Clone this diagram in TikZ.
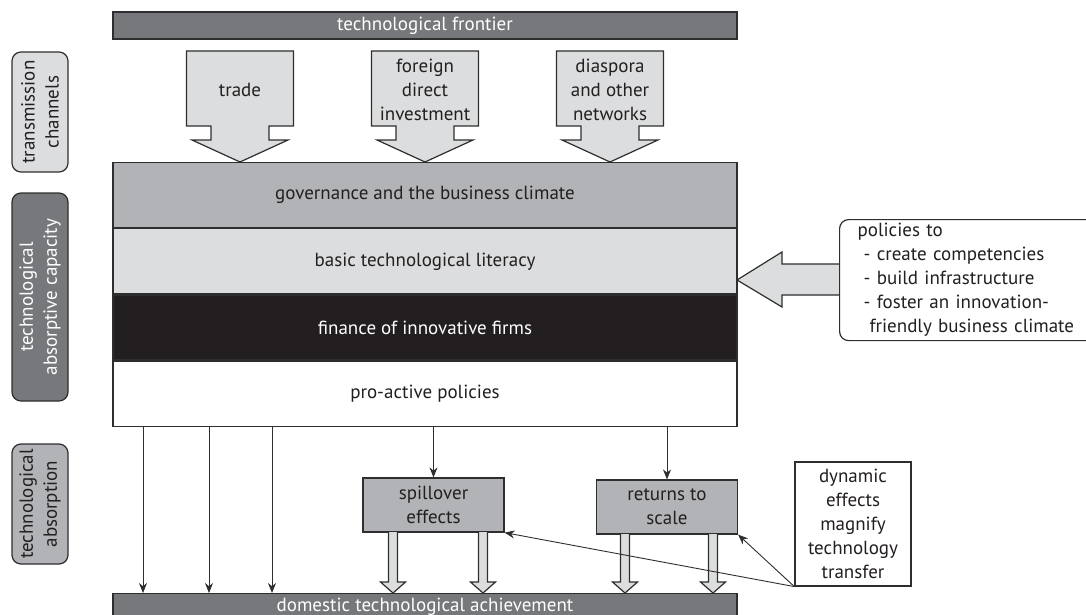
\documentclass[tikz,border=0pt]{standalone}
\usepackage{fontspec}
\setmainfont{PT Sans}
\usepackage{tikz}
\usetikzlibrary{positioning,arrows.meta}

\definecolor{bardark}{HTML}{77787B}
\definecolor{midgrey}{HTML}{B1B3B6}
\definecolor{lightgrey}{HTML}{DCDDDE}
\definecolor{inkblack}{HTML}{231F20}
\definecolor{rim}{HTML}{2E2E2E}

\tikzset{
  every node/.style={font=\fontsize{19}{24}\selectfont, text=inkblack, inner sep=0pt},
  outline/.style={draw=rim, line width=1.2pt},
  band/.style={outline, minimum width=624pt, minimum height=65pt},
  bar/.style={outline, fill=bardark, text=white, minimum width=624pt},
  tag/.style={outline, rounded corners=9pt, rotate=90, minimum height=56pt, align=center},
  effect/.style={outline, fill=midgrey, minimum width=141pt, minimum height=54pt, align=center},
  link/.style={draw=rim, line width=0.9pt, -{Stealth[length=10pt,width=8pt]}},
  fat/.style={outline, fill=lightgrey, line join=miter}
}

\begin{document}
\begin{tikzpicture}[x=1pt,y=-1pt]
  \useasboundingbox (0,0) rectangle (1086,615);

  \node[bar, minimum height=27pt] (front) at (425,25.5) {technological frontier};

  \node[tag, fill=lightgrey, minimum width=120pt] (tchan) at (40,112) {transmission\\channels};
  \node[tag, fill=bardark, text=white, minimum width=208pt] (tcap) at (40,297) {technological\\absorptive capacity};
  \node[tag, fill=midgrey, minimum width=120pt] (tabs) at (40,504) {technological\\absorption};

  \foreach \cx/\txt [count=\i] in {240/trade, 425/{foreign\\direct\\investment}, 610/{diaspora\\and other\\networks}} {
    \draw[fat] (\cx-53.5,51) -- (\cx+53.5,51) -- (\cx+53.5,126) -- (\cx+29,126) -- (\cx+29,140)
      -- (\cx+48,140) -- (\cx,162) -- (\cx-48,140) -- (\cx-29,140) -- (\cx-29,126) -- (\cx-53.5,126) -- cycle;
    \node[align=center] (ch\i) at (\cx,90) {\txt};
  }

  \node[band, fill=midgrey, anchor=north] (gov) at (425,162) {governance and the business climate};
  \node[band, fill=lightgrey, below=0pt of gov] (lit) {basic technological literacy};
  \node[band, fill=inkblack, text=white, below=0pt of lit] (fin) {finance of innovative firms};
  \node[band, fill=white, below=0pt of fin] (pro) {pro-active policies};

  \draw[fat] (839,264) -- (782,264) -- (782,252) -- (737,280) -- (782,307) -- (782,295) -- (839,295);
  \node[outline, fill=white, rounded corners=9pt, anchor=north west, text width=230pt, align=left,
    inner xsep=18pt, minimum height=121pt] (pol) at (839,219)
    {policies to\\\hspace*{6pt}- create competencies\\\hspace*{6pt}- build infrastructure\\
     \hspace*{6pt}- foster an innovation-\\\hspace*{12pt}friendly business climate};

  \node[bar, minimum height=30pt, anchor=north] (dom) at (425,593) {};
  \node[anchor=base, text=white] (domtxt) at (425,611) {domestic technological achievement};

  \node[effect] (spill) at (433.5,505) {spillover\\effects};
  \node[effect] (ret) at (667,507) {returns to\\scale};
  \node[outline, fill=white, minimum width=116pt, minimum height=124pt, align=center] (dyn) at (853,524)
    {dynamic\\effects\\magnify\\technology\\transfer};

  \foreach \x in {143,209,272}
    \draw[link] (pro.south -| \x,0) -- (dom.north -| \x,0);
  \draw[link] (pro.south -| spill.north) -- (spill.north);
  \draw[link] (pro.south -| ret.north) -- (ret.north);

  \foreach \x in {393,483}
    \draw[fat] (\x-4.5,532) -- (\x-4.5,582) -- (\x-12.5,582) -- (\x,593) -- (\x+12.5,582) -- (\x+4.5,582) -- (\x+4.5,532);
  \foreach \x in {625,713}
    \draw[fat] (\x-4.5,534) -- (\x-4.5,582) -- (\x-12.5,582) -- (\x,593) -- (\x+12.5,582) -- (\x+4.5,582) -- (\x+4.5,534);

  \draw[link] (dyn.south west) -- (ret.south east);
  \draw[link] (dyn.south west) -- (spill.south east);
\end{tikzpicture}
\end{document}
